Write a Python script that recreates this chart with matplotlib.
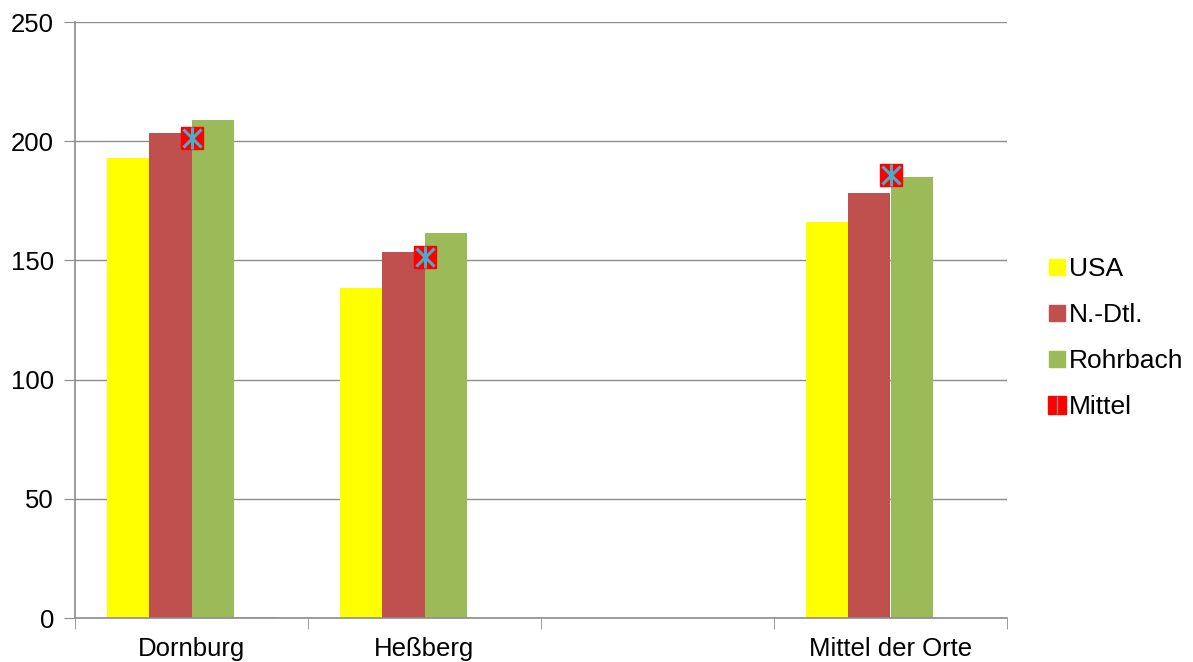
import matplotlib
matplotlib.use("Agg")
import matplotlib.pyplot as plt
from matplotlib.lines import Line2D
import numpy as np

plt.rcParams['font.family'] = ['Liberation Sans', 'DejaVu Sans']

categories = ["Dornburg", "Heßberg", "", "Mittel der Orte"]
usa = [193, 138.5, 0, 166]
ndtl = [203.5, 153.5, 0, 178.3]
rohrbach = [209, 161.5, 0, 185]
mittel_bar = [0.6, 0, 0, 0]
mittel_points = [201.5, 151.3, None, 186]
series_names = ["USA", "N.-Dtl.", "Rohrbach", "Mittel"]
colors = ["#FFFF00", "#C0504D", "#9BBB59", "#FF0000"]

fig = plt.figure(figsize=(11.93, 6.62), dpi=100)
ax = fig.add_axes([75/1193, 44/662, 932/1193, 596/662])

x = np.arange(len(categories))
w = 0.182
ax.bar(x - 1.5*w, usa, w, color=colors[0], zorder=2)
ax.bar(x - 0.5*w, ndtl, w, color=colors[1], zorder=2)
ax.bar(x + 0.5*w, rohrbach, w, color=colors[2], zorder=2)
ax.bar(x + 1.5*w, mittel_bar, w, color="#BBBBBB", zorder=2)

mx = [xi for xi, v in zip(x, mittel_points) if v is not None]
my = [v for v in mittel_points if v is not None]
ax.plot(mx, my, linestyle='none', marker='s', markersize=15.5, markerfacecolor='#FF0000',
        markeredgecolor='#FF0000', zorder=4)
ax.plot(mx, my, linestyle='none', marker='x', markersize=12.5, markeredgecolor='#4BACC6',
        markeredgewidth=2.2, zorder=5)
ax.plot(mx, my, linestyle='none', marker='|', markersize=15.5, markeredgecolor='#4BACC6',
        markeredgewidth=2.2, zorder=5)

ax.set_ylim(0, 250)
ax.set_xlim(-0.5, 3.5)
ax.set_yticks([0, 50, 100, 150, 200, 250])
ax.yaxis.grid(True, color='#8C8C8C', linewidth=1)
ax.set_axisbelow(True)
ax.set_xticks(x)
ax.set_xticklabels(categories)
ax.set_xticks(np.arange(-0.5, 4.0, 1.0), minor=True)
ax.tick_params(axis='x', which='major', length=0, labelsize=18.5, pad=14)
ax.tick_params(axis='x', which='minor', length=8, color='#8C8C8C', direction='out')
ax.tick_params(axis='y', length=8, color='#8C8C8C', labelsize=18.5, pad=7)
for s in ['top', 'right']:
    ax.spines[s].set_visible(False)
for s in ['left', 'bottom']:
    ax.spines[s].set_color('#8C8C8C')
    ax.spines[s].set_linewidth(1.2)

handles = [
    Line2D([], [], linestyle='none', marker='s', markersize=11, markerfacecolor=colors[0], markeredgecolor=colors[0]),
    Line2D([], [], linestyle='none', marker='s', markersize=11, markerfacecolor=colors[1], markeredgecolor=colors[1]),
    Line2D([], [], linestyle='none', marker='s', markersize=11, markerfacecolor=colors[2], markeredgecolor=colors[2]),
    (Line2D([], [], linestyle='none', marker='s', markersize=13, markerfacecolor='#FF0000', markeredgecolor='#FF0000'),
     Line2D([], [], linestyle='none', marker='|', markersize=13, markeredgecolor='#888888', markeredgewidth=1)),
]
fig.legend(handles, series_names, loc='center left', bbox_to_anchor=(1025/1193, 1 - 338/662),
           frameon=False, fontsize=19, handlelength=0.6, handletextpad=0.15, labelspacing=0.83)

fig.savefig("out.png", dpi=100)
